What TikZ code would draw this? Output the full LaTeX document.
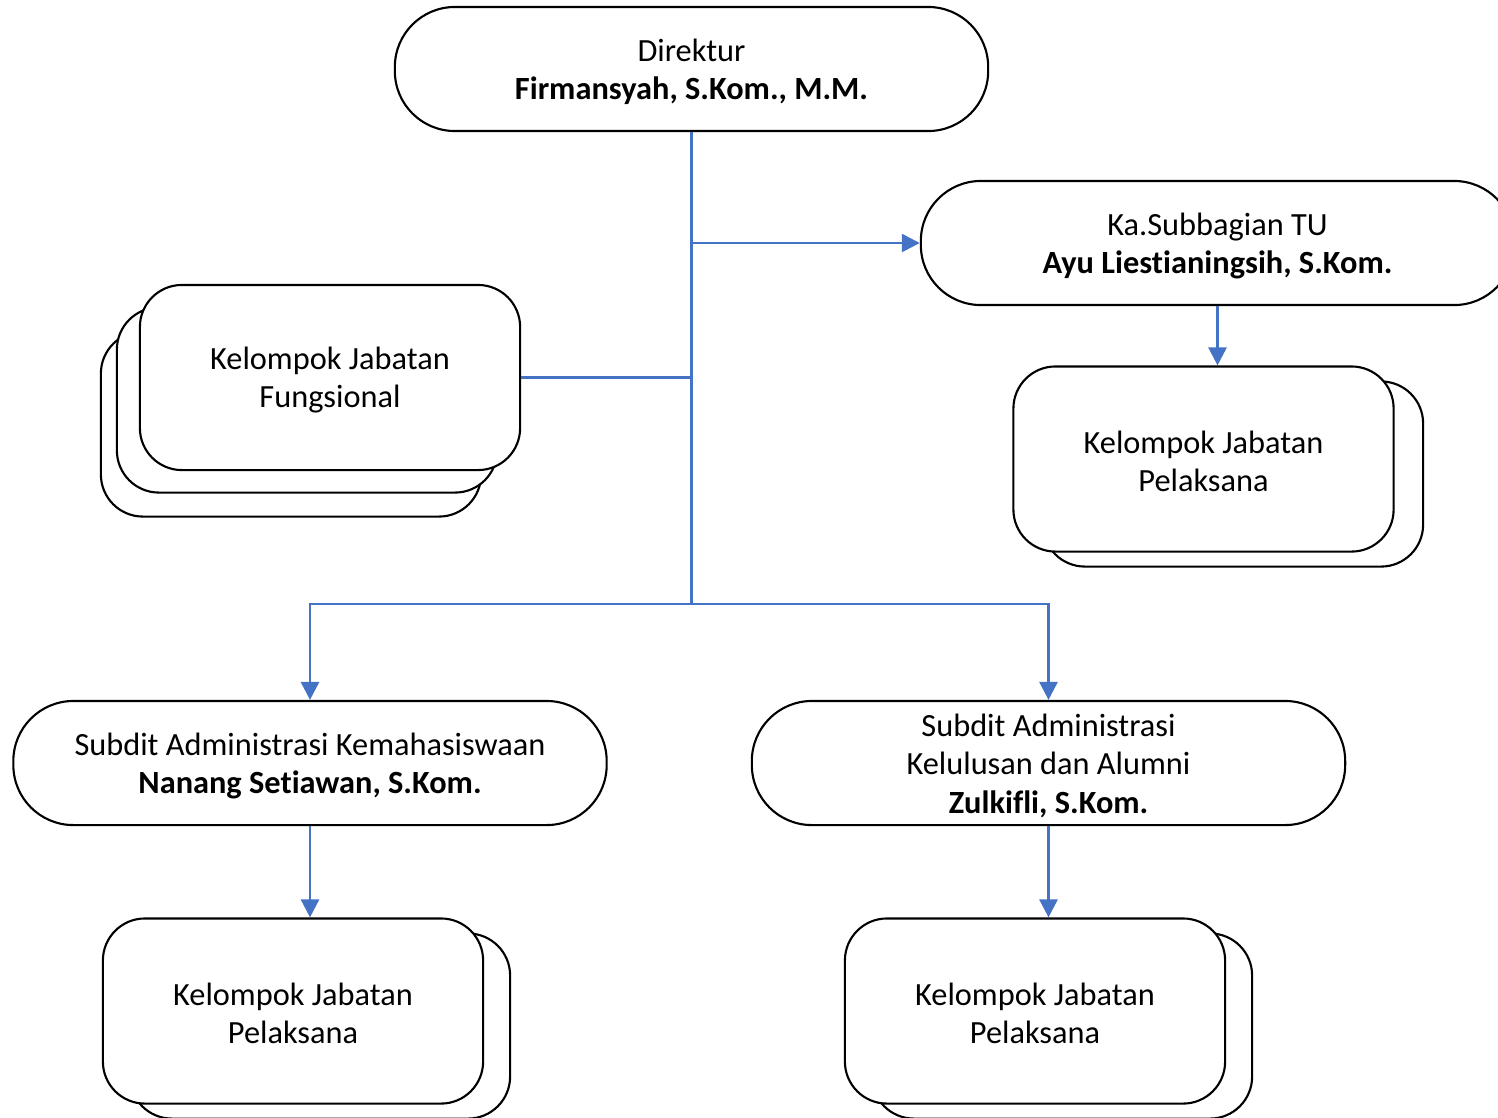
\documentclass[tikz,border=0pt]{standalone}
\usepackage{fontspec}
\setmainfont{Carlito}[Ligatures={NoCommon,NoRare,NoContextual}]
\usetikzlibrary{arrows.meta, positioning}
\definecolor{linkblue}{HTML}{4472C4}
\newcommand{\topstrut}{\rule{0pt}{7.9pt}}

\begin{document}
\begin{tikzpicture}
	[%
	x=0.01cm, y=-0.01cm,%
	pill/.style ={rectangle,	draw=black,	fill=white,	line width=0.6pt,	rounded corners=0.6cm,	minimum width=5.93cm,	minimum height=1.24cm,	align=center,	font=\fontsize{9.2}{10.9}\selectfont},%
	group/.style={rectangle,	draw=black,	fill=white,	line width=0.6pt,	rounded corners=0.42cm,	minimum width=3.8cm,	minimum height=1.85cm,	align=center,	font=\fontsize{9.2}{10.9}\selectfont},%
	link/.style ={draw=linkblue,	line width=0.75pt},%
	arrow/.style={link,	-{Triangle[length=1.8mm,width=1.8mm]}},%
	]
	\useasboundingbox (0,0) rectangle (1498,1117);
	\clip (0,0) rectangle (1498,1117);

	% nodes
	\node (direktur) at (691.5,69) [pill] {\topstrut Direktur\\\textbf{Firmansyah, S.Kom., M.M.}};
	\node (subbag) at (1217.5,243) [pill] {\topstrut Ka.Subbagian TU\\\textbf{Ayu Liestianingsih, S.Kom.}};

	\node (fungsional2) at (291,424) [group] {};
	\node (fungsional1) at (307,400) [group] {};
	\node (fungsional0) at (330,377.5) [group] {\topstrut Kelompok Jabatan\\Fungsional};

	\node (pelaksanaTU1) at (1233,474) [group] {};
	\node (pelaksanaTU0) at (1203.5,459) [group] {\topstrut Kelompok Jabatan\\Pelaksana};

	\node (subkem) at (310,763) [pill] {\topstrut Subdit Administrasi Kemahasiswaan\\\textbf{Nanang Setiawan, S.Kom.}};
	\node (subkel) at (1048.5,763) [pill, inner ysep=0pt] {\topstrut Subdit Administrasi\\Kelulusan dan Alumni\\\textbf{Zulkifli, S.Kom.}};

	\node (pelaksanaKem1) at (320,1026) [group] {};
	\node (pelaksanaKem0) at (293,1011) [group] {\topstrut Kelompok Jabatan\\Pelaksana};
	\node (pelaksanaKel1) at (1062,1026) [group] {};
	\node (pelaksanaKel0) at (1035,1011) [group] {\topstrut Kelompok Jabatan\\Pelaksana};

	\coordinate (split) at (direktur.south |- 0,604);

	% interconnections
	\draw [link] (direktur.south) -- (split);
	\draw [arrow] (direktur.south |- subbag.west) -- (subbag.west);
	\draw [link] (fungsional0.east) -- (fungsional0.east -| direktur.south);
	\draw [arrow] (split) -| (subkem.north);
	\draw [arrow] (split) -| (subkel.north);

	\draw [arrow] (subbag.south) -- (subbag.south |- pelaksanaTU0.north);
	\draw [arrow] (subkem.south) -- (subkem.south |- pelaksanaKem0.north);
	\draw [arrow] (subkel.south) -- (subkel.south |- pelaksanaKel0.north);

\end{tikzpicture}
\end{document}
